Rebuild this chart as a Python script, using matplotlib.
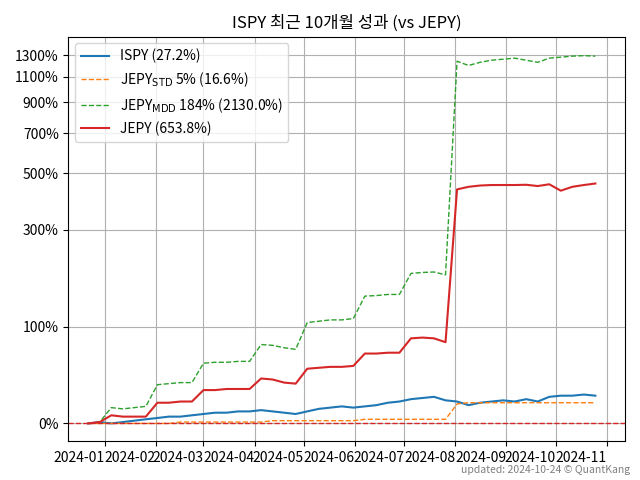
import numpy as np
import pandas as pd
import matplotlib
matplotlib.use("Agg")
import matplotlib.pyplot as plt

plt.rcParams['font.family'] = ['Noto Sans CJK KR', 'DejaVu Sans']

dates = pd.date_range('2023-12-22', periods=45, freq='7D')
jepy = [0, 1, 6, 5, 5, 5, 16, 16, 17, 17, 27, 27, 28, 28, 28, 38, 37, 34, 33, 48, 49, 50, 50, 51,
        65, 65, 66, 66, 84, 85, 84, 79, 435, 445, 450, 452, 452, 452, 453, 448, 455, 430, 445, 452, 458]
mdd = [0, 1, 12, 11, 12, 13, 32, 33, 34, 34, 54, 55, 55, 56, 56, 76, 75, 72, 70, 106, 108, 110, 110, 112,
       149, 150, 152, 152, 193, 195, 196, 190, 1240, 1200, 1230, 1250, 1260, 1270, 1250, 1230, 1270, 1280, 1290, 1295, 1290]
ispy = [0, 1, 0, 1, 2, 3, 4, 5, 5, 6, 7, 8, 8, 9, 9, 10, 9, 8, 7, 9, 11, 12, 13, 12,
        13, 14, 16, 17, 19, 20, 21, 18, 17, 14, 16, 17, 18, 17, 19, 17, 21, 22, 22, 23, 22]
std = [0, 0, 0, 0, 0, 0, 0, 0, 1, 1, 1, 1, 1, 1, 1, 1, 2, 2, 2, 2, 2, 2, 2, 2,
       3, 3, 3, 3, 3, 3, 3, 3, 15, 16, 16, 16, 16, 16, 16, 16, 16, 16, 16, 16, 16]
yticks = [0, 100, 300, 500, 700, 900, 1100, 1300]

fig, ax = plt.subplots(figsize=(6.4, 4.8), dpi=100)
ax.set_yscale('function', functions=(lambda v: np.log1p(np.maximum(v, -99) / 100),
                                     lambda t: (np.expm1(t)) * 100))
ax.plot(dates, ispy, color='#1f77b4', lw=1.5, label='ISPY (27.2%)')
ax.plot(dates, std, color='#ff7f0e', lw=1, ls='--', label=r'JEPY$_{\mathrm{STD}}$ 5% (16.6%)')
ax.plot(dates, mdd, color='#2ca02c', lw=1, ls='--', label=r'JEPY$_{\mathrm{MDD}}$ 184% (2130.0%)')
ax.plot(dates, jepy, color='#d62728', lw=1.5, label='JEPY (653.8%)')
ax.axhline(0, color='#d62728', ls='--', lw=1)
ax.set_yticks(yticks)
ax.set_yticklabels([f'{v}%' for v in yticks])
ax.set_ylim(-12, 1500)
ax.set_xlim(pd.Timestamp('2023-12-10'), pd.Timestamp('2024-11-12'))
months = pd.date_range('2024-01-01', periods=11, freq='MS')
ax.set_xticks(months)
ax.set_xticklabels([d.strftime('%Y-%m') for d in months], ha='right')
ax.grid(True)
ax.legend(loc='upper left')
ax.set_title('ISPY 최근 10개월 성과 (vs JEPY)')
fig.text(0.985, 0.01, 'updated: 2024-10-24 © QuantKang', ha='right', va='bottom', fontsize=7.5, color='gray')
fig.tight_layout()
fig.savefig('out.png')
